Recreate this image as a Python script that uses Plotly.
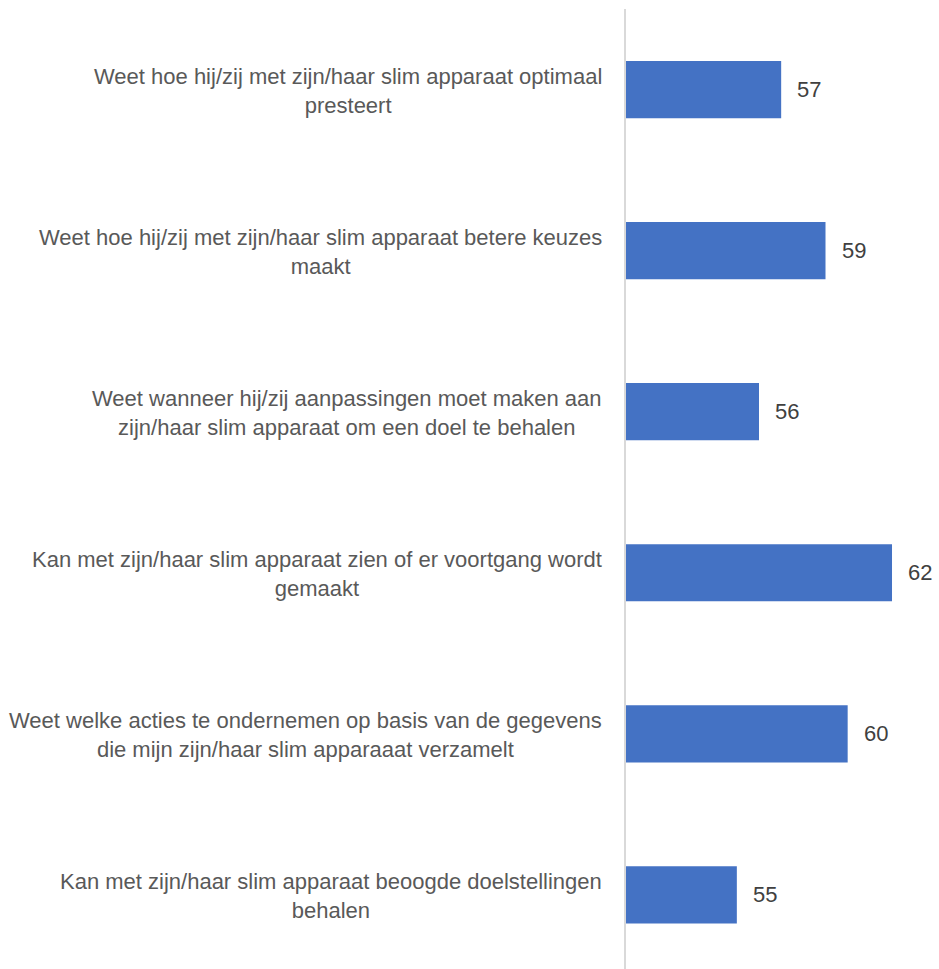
import plotly.graph_objects as go

# Survey statements (top to bottom) and their scores
statements = [
    "Weet hoe hij/zij met zijn/haar slim apparaat optimaal<br>presteert",
    "Weet hoe hij/zij met zijn/haar slim apparaat betere keuzes<br>maakt",
    "Weet wanneer hij/zij aanpassingen moet maken aan<br>zijn/haar slim apparaat om een doel te behalen",
    "Kan met zijn/haar slim apparaat zien of er voortgang wordt<br>gemaakt",
    "Weet welke acties te ondernemen op basis van de gegevens<br>die mijn zijn/haar slim apparaaat verzamelt",
    "Kan met zijn/haar slim apparaat beoogde doelstellingen<br>behalen",
]
scores = [57, 59, 56, 62, 60, 55]

AXIS_MIN = 50
FONT = "Liberation Sans, Arial, sans-serif"
BAR_COLOR = "#4472C4"

positions = list(range(len(statements)))

# bars start at the axis minimum, so lengths are drawn relative to it
fig = go.Figure(
    go.Bar(
        x=[s - AXIS_MIN for s in scores],
        y=positions,
        orientation="h",
        base=AXIS_MIN,
        marker=dict(color=BAR_COLOR, line=dict(width=0)),
        width=0.355,
        hoverinfo="skip",
    )
)

annotations = []
for pos, label, val in zip(positions, statements, scores):
    annotations.append(dict(
        x=0, xref="paper", y=pos, yref="y",
        text=label, showarrow=False,
        xanchor="right", yanchor="middle", align="center",
        xshift=-22, yshift=-1,
        font=dict(family=FONT, size=22, color="#595959"),
    ))
    annotations.append(dict(
        x=val, xref="x", y=pos, yref="y",
        text=str(val), showarrow=False,
        xanchor="left", yanchor="middle",
        xshift=14,
        font=dict(family=FONT, size=22, color="#404040"),
    ))

fig.update_layout(
    width=939, height=969,
    margin=dict(l=626, r=0, t=9, b=0),
    paper_bgcolor="white", plot_bgcolor="white",
    showlegend=False,
    annotations=annotations,
    xaxis=dict(range=[AXIS_MIN, 64.12], showgrid=False, zeroline=False,
               showticklabels=False, ticks=""),
    yaxis=dict(range=[len(statements) - 0.54, -0.5], showgrid=False,
               zeroline=False, showticklabels=False, ticks="",
               showline=True, linecolor="#d9d9d9", linewidth=1.5),
)

fig.write_html("out.html")
